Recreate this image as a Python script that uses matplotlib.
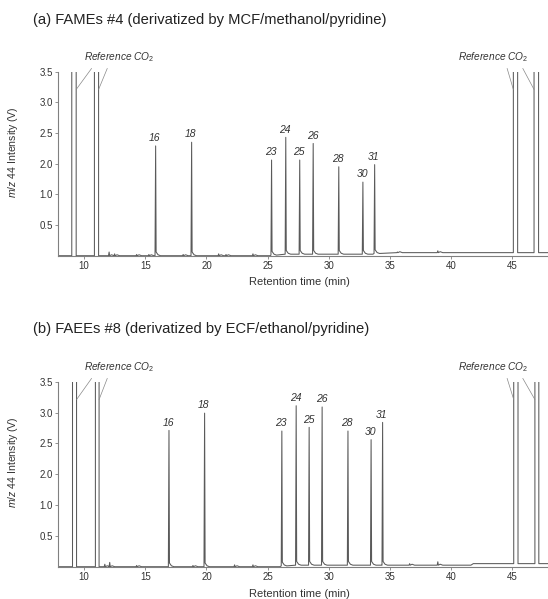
import numpy as np
import matplotlib
matplotlib.use("Agg")
import matplotlib.pyplot as plt

plt.rcParams['font.family'] = ['Liberation Sans', 'DejaVu Sans']
plt.rcParams['mathtext.fontset'] = 'custom'
plt.rcParams['mathtext.rm'] = 'Liberation Sans'
plt.rcParams['mathtext.it'] = 'Liberation Sans:italic'

# y axis of the original is not linear: labelled levels sit at equal steps
y_levels = [0.0, 0.5, 1.0, 2.0, 2.5, 3.0, 3.5]
y_tick_labels = ['0.5', '1.0', '2.0', '2.5', '3.0', '3.5']
x_ticks = [10, 15, 20, 25, 30, 35, 40, 45]

titles = ['(a) FAMEs #4 (derivatized by MCF/methanol/pyridine)',
          '(b) FAEEs #8 (derivatized by ECF/ethanol/pyridine)']

peak_names = ['16', '18', '23', '24', '25', '26', '28', '30', '31']

# panel (a)
rt_a = [15.85, 18.79, 25.32, 26.48, 27.62, 28.72, 30.81, 32.78, 33.74]
height_a = [2.29, 2.35, 2.06, 2.43, 2.06, 2.33, 1.90, 1.40, 1.97]
pulses_a = [(9.00, 9.36), (10.85, 11.19), (45.07, 45.42), (46.76, 47.13)]
base_t_a = [7.9, 25.2, 25.5, 33.6, 33.9, 47.9]
base_v_a = [0.0, 0.0, 0.025, 0.025, 0.05, 0.05]
bump_t_a = [12.05, 12.5, 14.3, 15.3, 18.1, 21.0, 21.6, 23.8, 35.6, 38.9]
bump_v_a = [0.06, 0.03, 0.02, 0.02, 0.02, 0.03, 0.02, 0.03, 0.06, 0.08]

# panel (b)
rt_b = [16.94, 19.85, 26.16, 27.33, 28.39, 29.45, 31.56, 33.45, 34.39]
height_b = [2.71, 2.99, 2.70, 3.11, 2.76, 3.09, 2.70, 2.56, 2.84]
pulses_b = [(9.06, 9.39), (10.93, 11.23), (45.10, 45.45), (46.83, 47.15)]
base_t_b = [7.9, 26.0, 26.3, 34.3, 34.6, 41.6, 41.8, 47.9]
base_v_b = [0.0, 0.0, 0.025, 0.025, 0.025, 0.025, 0.05, 0.05]
bump_t_b = [11.7, 12.1, 14.3, 18.9, 22.3, 23.8, 36.6, 38.9]
bump_v_b = [0.04, 0.07, 0.02, 0.02, 0.03, 0.03, 0.05, 0.08]

XLIM = (7.9, 47.9)
LINE = '#5a5a5a'
AXC = '#808080'

pos = np.arange(len(y_levels), dtype=float)
lev_ext = np.r_[-1.0, y_levels, 20.0]
pos_ext = np.r_[-2.0, pos, pos[-1] + (20.0 - y_levels[-1]) / 0.5]


def fwd(y):
    return np.interp(y, lev_ext, pos_ext)


def inv(p):
    return np.interp(p, pos_ext, lev_ext)


def build_trace(rt, hh, pulses, base_t, base_v, bump_t, bump_v):
    base = lambda t: float(np.interp(t, base_t, base_v))
    events = []
    for t, h in zip(list(rt) + list(bump_t), list(hh) + list(bump_v)):
        b = base(t)
        pts = [(t - 0.05, b), (t, h), (t + 0.04, b + 0.06 * (h > 0.5)),
               (t + 0.2, b + 0.015), (t + 0.4, b)]
        events.append(pts)
    for s, e in pulses:
        events.append([(s, base(s)), (s, 8.0), (e, 8.0), (e, base(e))])
    events.sort(key=lambda p: p[0][0])
    xs, ys = [], []
    cursor = XLIM[0]
    for pts in events:
        for bt, bv in zip(base_t, base_v):
            if cursor <= bt < pts[0][0]:
                xs.append(bt); ys.append(bv)
        for px, py in pts:
            xs.append(px); ys.append(py)
        cursor = pts[-1][0]
    for bt, bv in zip(base_t, base_v):
        if bt > cursor:
            xs.append(bt); ys.append(bv)
    return xs, ys


fig = plt.figure(figsize=(5.48, 5.99), dpi=100)
rects = [[0.1064, 0.5731, 0.8936, 0.3072], [0.1064, 0.0539, 0.8936, 0.3089]]
panels = [(rt_a, height_a, pulses_a, base_t_a, base_v_a, bump_t_a, bump_v_a),
          (rt_b, height_b, pulses_b, base_t_b, base_v_b, bump_t_b, bump_v_b)]
title_y = [1 - 20 / 599, 1 - 329 / 599]

for i, (rect, data) in enumerate(zip(rects, panels)):
    ax = fig.add_axes(rect)
    ax.set_yscale('function', functions=(fwd, inv))
    xs, ys = build_trace(*data)
    ax.plot(xs, ys, color=LINE, lw=0.75)
    ax.set_xlim(*XLIM)
    ax.set_ylim(0, 3.5)
    ax.set_yticks(y_levels[1:])
    ax.set_yticklabels(y_tick_labels)
    ax.set_xticks(x_ticks)
    ax.minorticks_off()
    for s in ['top', 'right']:
        ax.spines[s].set_visible(False)
    for s in ['left', 'bottom']:
        ax.spines[s].set_color(AXC)
        ax.spines[s].set_linewidth(0.8)
    ax.tick_params(direction='out', length=2.5, width=0.6, color=AXC,
                   labelsize=7, labelcolor='#333333', pad=1.5)
    ax.set_xlabel('Retention time (min)', fontsize=8, color='#333333')
    ax.xaxis.set_label_coords(0.4915, -0.118)
    ax.set_ylabel(r'$\mathit{m/z}$ 44 Intensity (V)', fontsize=7.6, color='#333333')
    ax.yaxis.set_label_coords(-0.078, 0.565)

    rt, hh, pulses = data[0], data[1], data[2]
    for name, t, h in zip(peak_names, rt, hh):
        ax.annotate(name, (t, h), xytext=(-0.5, 2), textcoords='offset points',
                    ha='center', va='bottom', fontsize=7.5, style='italic',
                    color='#333333')

    # reference CO2 callouts
    ref_text_x = [12.89, 43.39]
    for tx in ref_text_x:
        ax.text(tx, 1.078, 'Reference CO$_2$', transform=ax.get_xaxis_transform(),
                ha='center', va='center', fontsize=7.3, style='italic',
                color='#333333')
    starts = [10.62, 11.90, 44.56, 45.84]
    ends = [pulses[0][1], pulses[1][1], pulses[2][0], pulses[3][0]]
    for sx, ex in zip(starts, ends):
        ax.annotate('', xy=(ex, 3.21), xycoords='data',
                    xytext=(sx, 1.018), textcoords=('data', 'axes fraction'),
                    arrowprops=dict(arrowstyle='-', color='#888888', lw=0.5,
                                    shrinkA=0, shrinkB=0),
                    annotation_clip=False)

    fig.text(33 / 548, title_y[i], titles[i], ha='left', va='center',
             fontsize=10.6, color='#222222')

fig.savefig('out.png', dpi=100)
